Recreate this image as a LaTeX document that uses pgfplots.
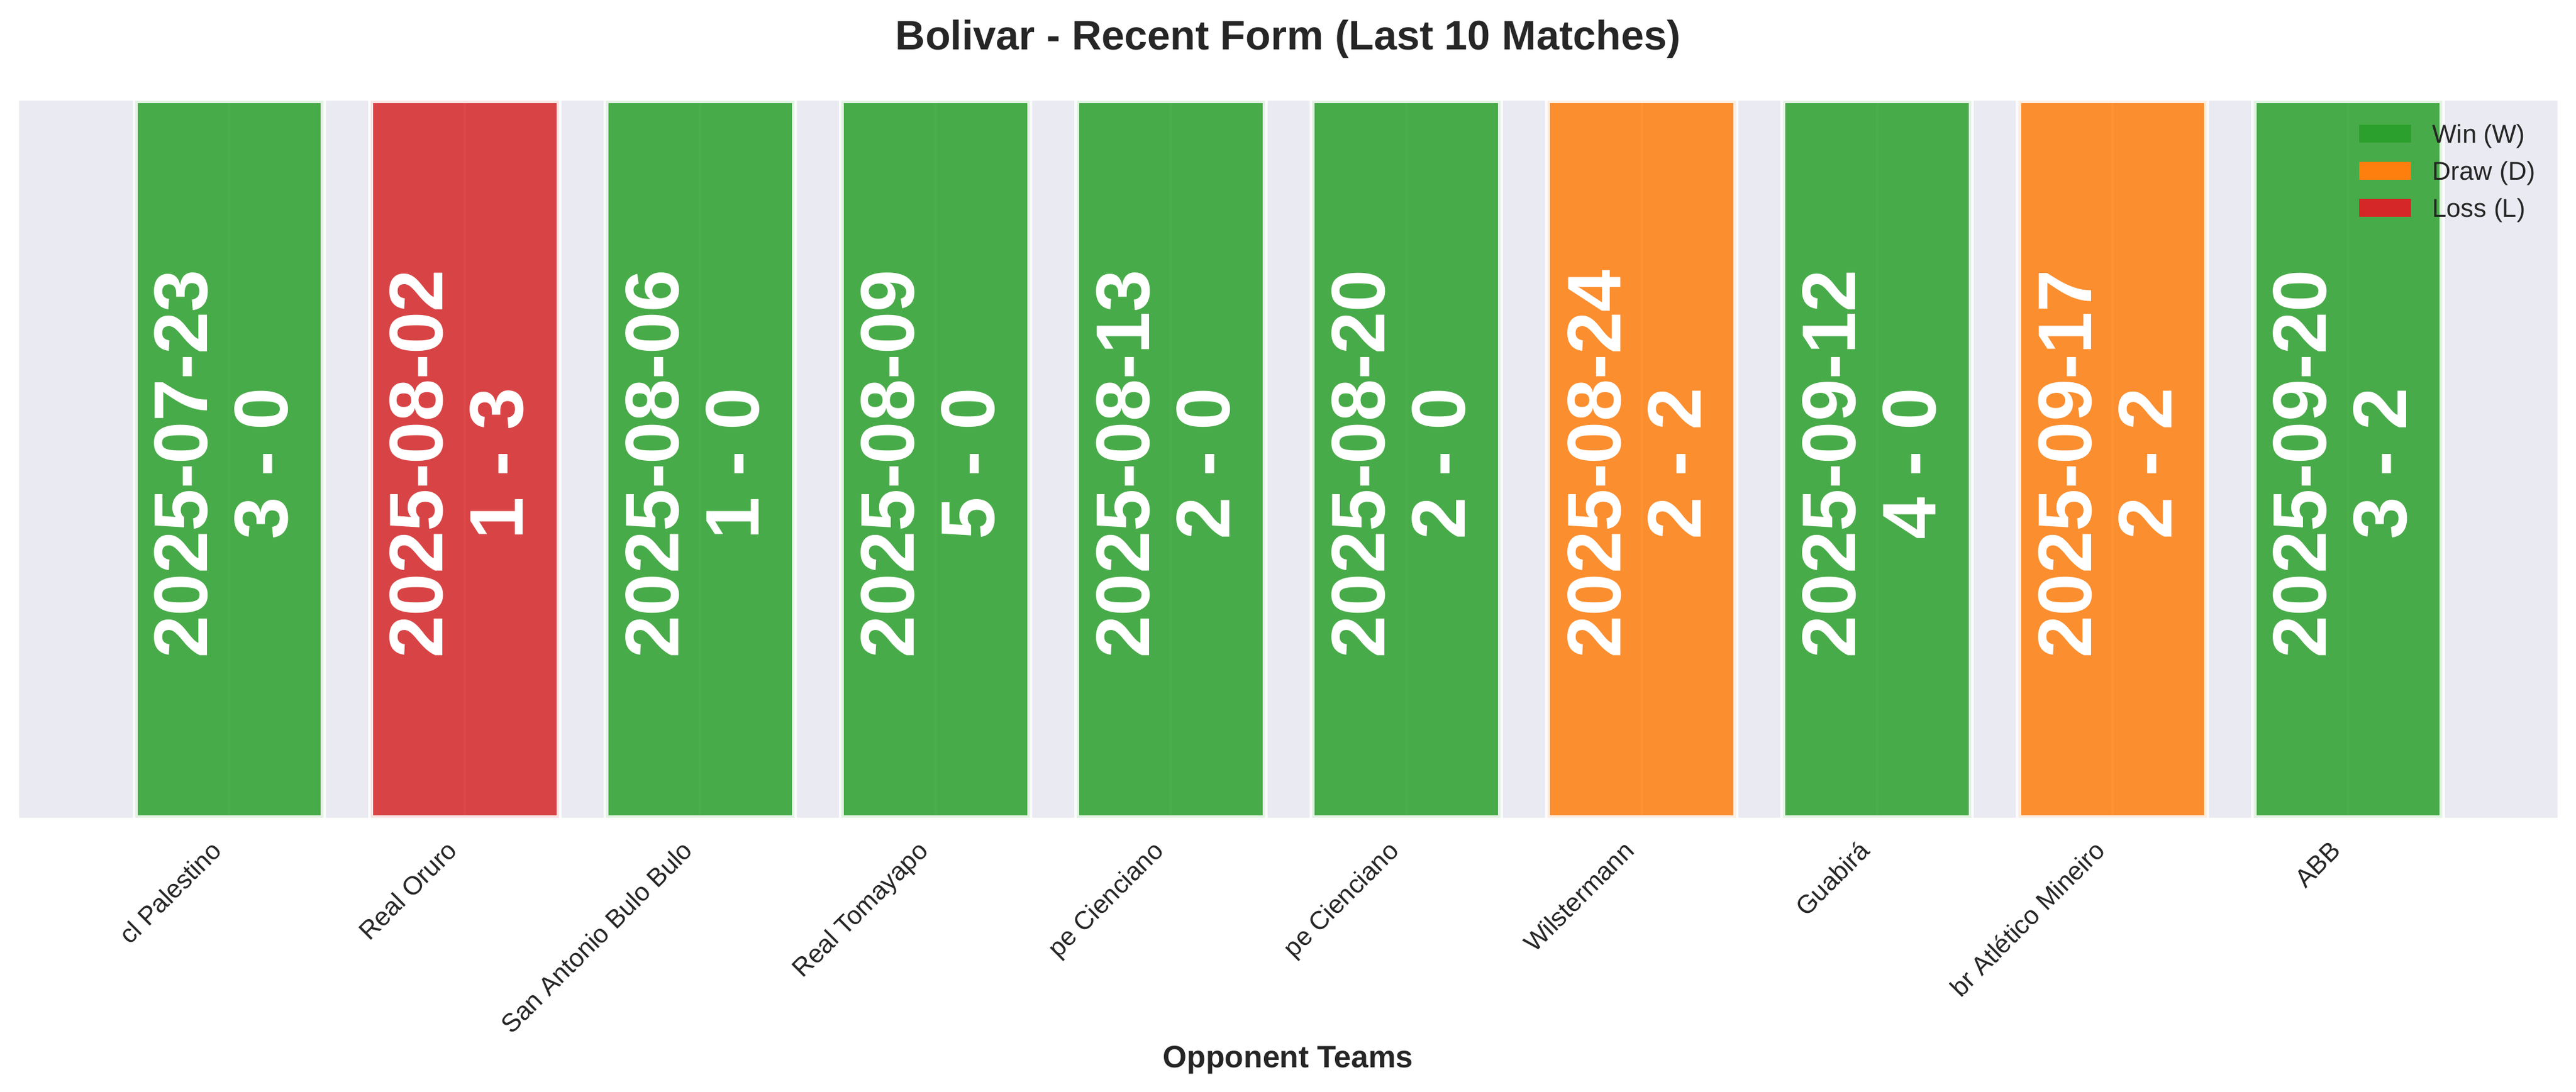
\documentclass[border=0pt]{standalone}
\usepackage{pgfplots}
\pgfplotsset{compat=1.18}
\usepackage{fontspec}
\setmainfont{Liberation Sans}
\definecolor{bgc}{HTML}{EAEAF2}
\definecolor{winc}{HTML}{2CA02C}
\definecolor{drawc}{HTML}{FF7F0E}
\definecolor{lossc}{HTML}{D62728}
\definecolor{txtc}{HTML}{262626}
\begin{document}
\begin{tikzpicture}
\begin{axis}[
  at={(7.32pt,106.56pt)}, anchor=south west,
  scale only axis, width=986.28pt, height=278.64pt,
  xmin=-0.894, xmax=9.89, ymin=0, ymax=1,
  axis background/.style={fill=bgc},
  axis line style={draw=none},
  major tick length=0pt,
  ytick=\empty,
  xtick={0,...,9},
  xticklabels={cl Palestino, Real Oruro, San Antonio Bulo Bulo, Real Tomayapo, pe Cienciano, pe Cienciano, Wilstermann, Guabirá, br Atlético Mineiro, ABB},
  xticklabel style={font=\fontsize{10}{12}\selectfont, text=txtc, xshift=-7.44pt, yshift=-8.16pt, rotate=45, anchor=north east, inner sep=0pt, text height=7.16pt, text depth=0pt},
  xmajorgrids, grid style={white, line width=1pt},
  title={Bolivar - Recent Form (Last 10 Matches)},
  title style={at={(0.5,1)}, anchor=base, yshift=13.9pt, font=\fontsize{16}{19}\selectfont\bfseries, text=txtc},
  xlabel={Opponent Teams},
  xlabel style={at={(axis description cs:0.5,0)}, anchor=base, yshift=-97.2pt, font=\fontsize{12}{14}\selectfont\bfseries, text=txtc},
  legend style={at={(0.9219,0.9666)}, anchor=north west, draw=none, fill=none, inner sep=0pt, outer sep=0pt, row sep=7.24pt, column sep=8.2pt, font=\fontsize{10}{12}\selectfont, text=txtc, nodes={inner sep=0pt, text height=7.16pt, text depth=0pt}},
  legend cell align=left,
  legend image code/.code={\fill[#1] (0pt,-3.5pt) rectangle (20.2pt,3.5pt);},
]
\addplot[ybar, bar width=0.8, bar shift=0pt, fill=winc, fill opacity=0.85, draw=white, draw opacity=0.85, line width=2pt, forget plot]
  coordinates {(0,1) (2,1) (3,1) (4,1) (5,1) (7,1) (9,1)};
\addplot[ybar, bar width=0.8, bar shift=0pt, fill=drawc, fill opacity=0.85, draw=white, draw opacity=0.85, line width=2pt, forget plot]
  coordinates {(6,1) (8,1)};
\addplot[ybar, bar width=0.8, bar shift=0pt, fill=lossc, fill opacity=0.85, draw=white, draw opacity=0.85, line width=2pt, forget plot]
  coordinates {(1,1)};
\addlegendimage{fill=winc, draw=none}
\addlegendentry{Win (W)}
\addlegendimage{fill=drawc, draw=none}
\addlegendentry{Draw (D)}
\addlegendimage{fill=lossc, draw=none}
\addlegendentry{Loss (L)}
\tikzset{bartxt/.style={xshift=-3pt, yshift=-1.8pt, rotate=90, text=white, align=center, inner sep=0pt, font=\fontsize{29.5}{31.2}\selectfont\bfseries}}
\node[bartxt] at (axis cs:0,0.5) {2025-07-23\\3 - 0};
\node[bartxt] at (axis cs:1,0.5) {2025-08-02\\1 - 3};
\node[bartxt] at (axis cs:2,0.5) {2025-08-06\\1 - 0};
\node[bartxt] at (axis cs:3,0.5) {2025-08-09\\5 - 0};
\node[bartxt] at (axis cs:4,0.5) {2025-08-13\\2 - 0};
\node[bartxt] at (axis cs:5,0.5) {2025-08-20\\2 - 0};
\node[bartxt] at (axis cs:6,0.5) {2025-08-24\\2 - 2};
\node[bartxt] at (axis cs:7,0.5) {2025-09-12\\4 - 0};
\node[bartxt] at (axis cs:8,0.5) {2025-09-17\\2 - 2};
\node[bartxt] at (axis cs:9,0.5) {2025-09-20\\3 - 2};
\end{axis}
\pgfresetboundingbox
\path[use as bounding box] (0,0) rectangle (1000.8pt,424.32pt);
\end{tikzpicture}
\end{document}
